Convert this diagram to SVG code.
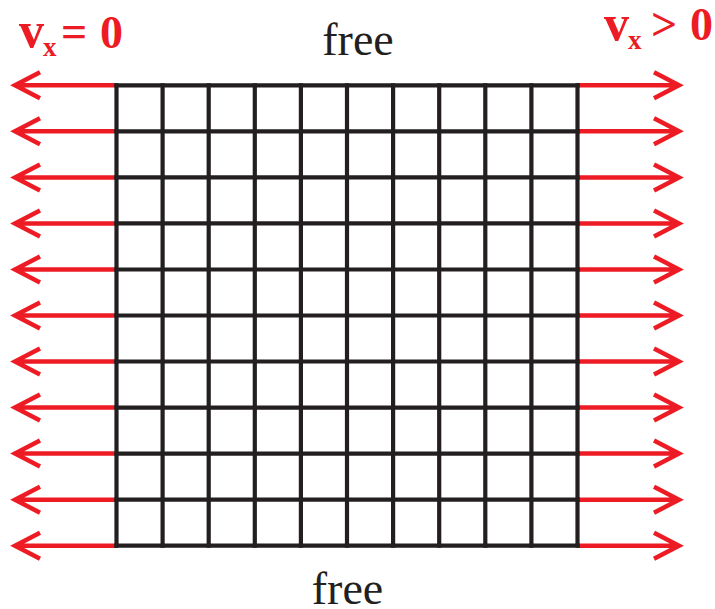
<svg xmlns="http://www.w3.org/2000/svg" width="715" height="609" viewBox="0 0 715 609">
<style>
.grid line{stroke:#231F20;stroke-width:4.2;stroke-linecap:square}
.arr{stroke:#ED1C24;stroke-width:4.5;fill:none;stroke-linejoin:miter;stroke-miterlimit:10}
.lbl{font-family:"Liberation Serif","Times New Roman",serif;fill:#ED1C24;font-weight:bold}
.free{font-family:"Liberation Serif","Times New Roman",serif;fill:#231F20;font-size:46px}
</style>
<defs>
<path id="la" d="M116.5,0 H15 M40,-13 L15,0 L40,13"/>
<path id="ra" d="M577.5,0 H679 M654,-13 L679,0 L654,13"/>
</defs>
<g id="connectors" class="arr">
<use href="#la" y="85.3"/><use href="#la" y="131.3"/><use href="#la" y="177.4"/><use href="#la" y="223.4"/><use href="#la" y="269.5"/><use href="#la" y="315.5"/><use href="#la" y="361.5"/><use href="#la" y="407.6"/><use href="#la" y="453.6"/><use href="#la" y="499.7"/><use href="#la" y="545.7"/>
<use href="#ra" y="85.3"/><use href="#ra" y="131.3"/><use href="#ra" y="177.4"/><use href="#ra" y="223.4"/><use href="#ra" y="269.5"/><use href="#ra" y="315.5"/><use href="#ra" y="361.5"/><use href="#ra" y="407.6"/><use href="#ra" y="453.6"/><use href="#ra" y="499.7"/><use href="#ra" y="545.7"/>
</g>
<g id="grid" class="grid">
<line x1="116.5" y1="85.3" x2="116.5" y2="545.7"/><line x1="162.6" y1="85.3" x2="162.6" y2="545.7"/><line x1="208.7" y1="85.3" x2="208.7" y2="545.7"/><line x1="254.8" y1="85.3" x2="254.8" y2="545.7"/><line x1="300.9" y1="85.3" x2="300.9" y2="545.7"/><line x1="347" y1="85.3" x2="347" y2="545.7"/><line x1="393.1" y1="85.3" x2="393.1" y2="545.7"/><line x1="439.2" y1="85.3" x2="439.2" y2="545.7"/><line x1="485.3" y1="85.3" x2="485.3" y2="545.7"/><line x1="531.4" y1="85.3" x2="531.4" y2="545.7"/><line x1="577.5" y1="85.3" x2="577.5" y2="545.7"/>
<line x1="116.5" y1="85.3" x2="577.5" y2="85.3"/><line x1="116.5" y1="131.3" x2="577.5" y2="131.3"/><line x1="116.5" y1="177.4" x2="577.5" y2="177.4"/><line x1="116.5" y1="223.4" x2="577.5" y2="223.4"/><line x1="116.5" y1="269.5" x2="577.5" y2="269.5"/><line x1="116.5" y1="315.5" x2="577.5" y2="315.5"/><line x1="116.5" y1="361.5" x2="577.5" y2="361.5"/><line x1="116.5" y1="407.6" x2="577.5" y2="407.6"/><line x1="116.5" y1="453.6" x2="577.5" y2="453.6"/><line x1="116.5" y1="499.7" x2="577.5" y2="499.7"/><line x1="116.5" y1="545.7" x2="577.5" y2="545.7"/>
</g>
<g id="label-left">
<text class="lbl" font-size="46"><tspan x="19" y="47" font-size="50">v</tspan><tspan x="43" y="56" font-size="27">x</tspan><tspan x="61" y="47">=</tspan><tspan x="100" y="48">0</tspan></text>
</g>
<g id="label-right">
<text class="lbl" font-size="46"><tspan x="604" y="40" font-size="50">v</tspan><tspan x="628" y="49" font-size="27">x</tspan><tspan x="651" y="40">&gt;</tspan><tspan x="690" y="40">0</tspan></text>
</g>
<g id="free-top"><text class="free" x="358" y="55" text-anchor="middle">free</text></g>
<g id="free-bottom"><text class="free" x="347.5" y="604" text-anchor="middle">free</text></g>
</svg>
